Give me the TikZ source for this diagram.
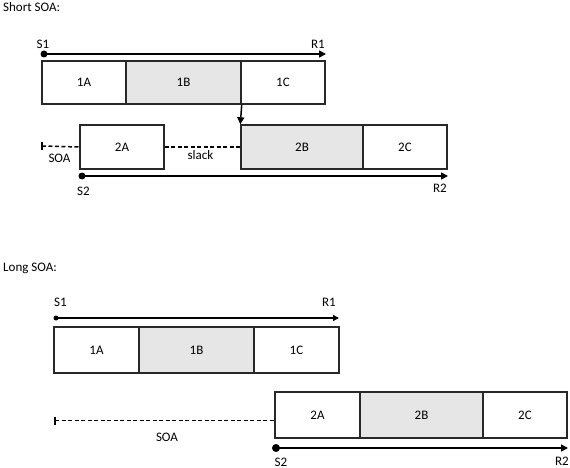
\documentclass[tikz,border=0pt]{standalone}
\usepackage{fontspec}
\setmainfont{Carlito}
\usepackage{tikz}
\usetikzlibrary{arrows.meta}
\definecolor{shade}{RGB}{230, 230, 230}
\definecolor{edge}{RGB}{40, 40, 40}

\tikzset{
  every node/.style={font=\fontsize{13}{15}\selectfont, inner sep=0},
  phase/.style={draw=edge, line width=1.4, minimum height=44},
  busy/.style={phase, fill=shade},
  timeline/.style={black, line width=1.6, -{Triangle[length=7, width=7]}},
  gap/.style={black, line width=1.5, dash pattern=on 4 off 2.5}
}

\begin{document}
\begin{tikzpicture}[x=1pt, y=-1pt]
  \useasboundingbox (0, 0) rectangle (570, 468);

  % short SOA
  \begin{scope}
    \node[anchor=west] (head) at (3, 7) {Short SOA:};

    \node[phase, minimum width=84, minimum height=43] (a1) at (84, 82.5) {1A};
    \node[busy, minimum width=115, minimum height=43] (b1) at (183.5, 82.5) {1B};
    \node[phase, minimum width=84, minimum height=43] (c1) at (283, 82.5) {1C};

    \node[phase, minimum width=84] (a2) at (122, 147) {2A};
    \node[busy, minimum width=122] (b2) at (302, 147) {2B};
    \node[phase, minimum width=84] (c2) at (405, 147) {2C};

    \coordinate (s1) at (44, 54);
    \coordinate (r1) at (326, 54);
    \coordinate (s2) at (82, 176);
    \coordinate (r2) at (448, 176);
    \coordinate (soa) at (42, 146);

    \fill (s1) circle (3.5);
    \draw[timeline] (s1) -- (r1);
    \fill (s2) circle (3.5);
    \draw[timeline] (s2) -- (r2);

    \draw[black, line width=1.5, -{Triangle[length=7, width=7]}] (b1.south east) -- (b2.north west);

    \draw[black, line width=1.3] (soa) ++(0, -4) -- ++(0, 8);
    \draw[gap] (soa) -- (a2.west);
    \draw[gap] (a2.east) -- (b2.west);

    \node (ls1) at (43, 44.5) {S1};
    \node (lr1) at (318, 44.5) {R1};
    \node (ls2) at (83.5, 191) {S2};
    \node (lr2) at (440, 188.5) {R2};
    \node (lsoa) at (59.5, 158) {SOA};
    \node (lslack) at (200.5, 155) {slack};
  \end{scope}

  % long SOA
  \begin{scope}
    \node[anchor=west] (head) at (3, 268) {Long SOA:};

    \node[phase, minimum width=85, minimum height=46] (a1) at (96.5, 350) {1A};
    \node[busy, minimum width=115, minimum height=46] (b1) at (196.5, 350) {1B};
    \node[phase, minimum width=85, minimum height=46] (c1) at (296.5, 350) {1C};

    \node[phase, minimum width=85, minimum height=46] (a2) at (317.5, 415) {2A};
    \node[busy, minimum width=123, minimum height=46] (b2) at (421.5, 415) {2B};
    \node[phase, minimum width=84, minimum height=46] (c2) at (525, 415) {2C};

    \coordinate (s1) at (56, 318);
    \coordinate (r1) at (339, 318);
    \coordinate (s2) at (276, 448);
    \coordinate (r2) at (568, 448);
    \coordinate (soa) at (55, 420.5);

    \fill (s1) circle (2.5);
    \draw[black, line width=1.3, -{Triangle[length=6, width=6]}] (s1) -- (r1);
    \fill (s2) circle (4);
    \draw[timeline] (s2) -- (r2);

    \draw[black, line width=1.3] (soa) ++(0, -4) -- ++(0, 8);
    \draw[gap, line width=1.2] (soa) -- (soa -| a2.west);

    \node (ls1) at (60.5, 302) {S1};
    \node (lr1) at (329, 302) {R1};
    \node (ls2) at (281, 462) {S2};
    \node (lr2) at (562, 461) {R2};
    \node (lsoa) at (167, 437) {SOA};
  \end{scope}

\end{tikzpicture}
\end{document}
